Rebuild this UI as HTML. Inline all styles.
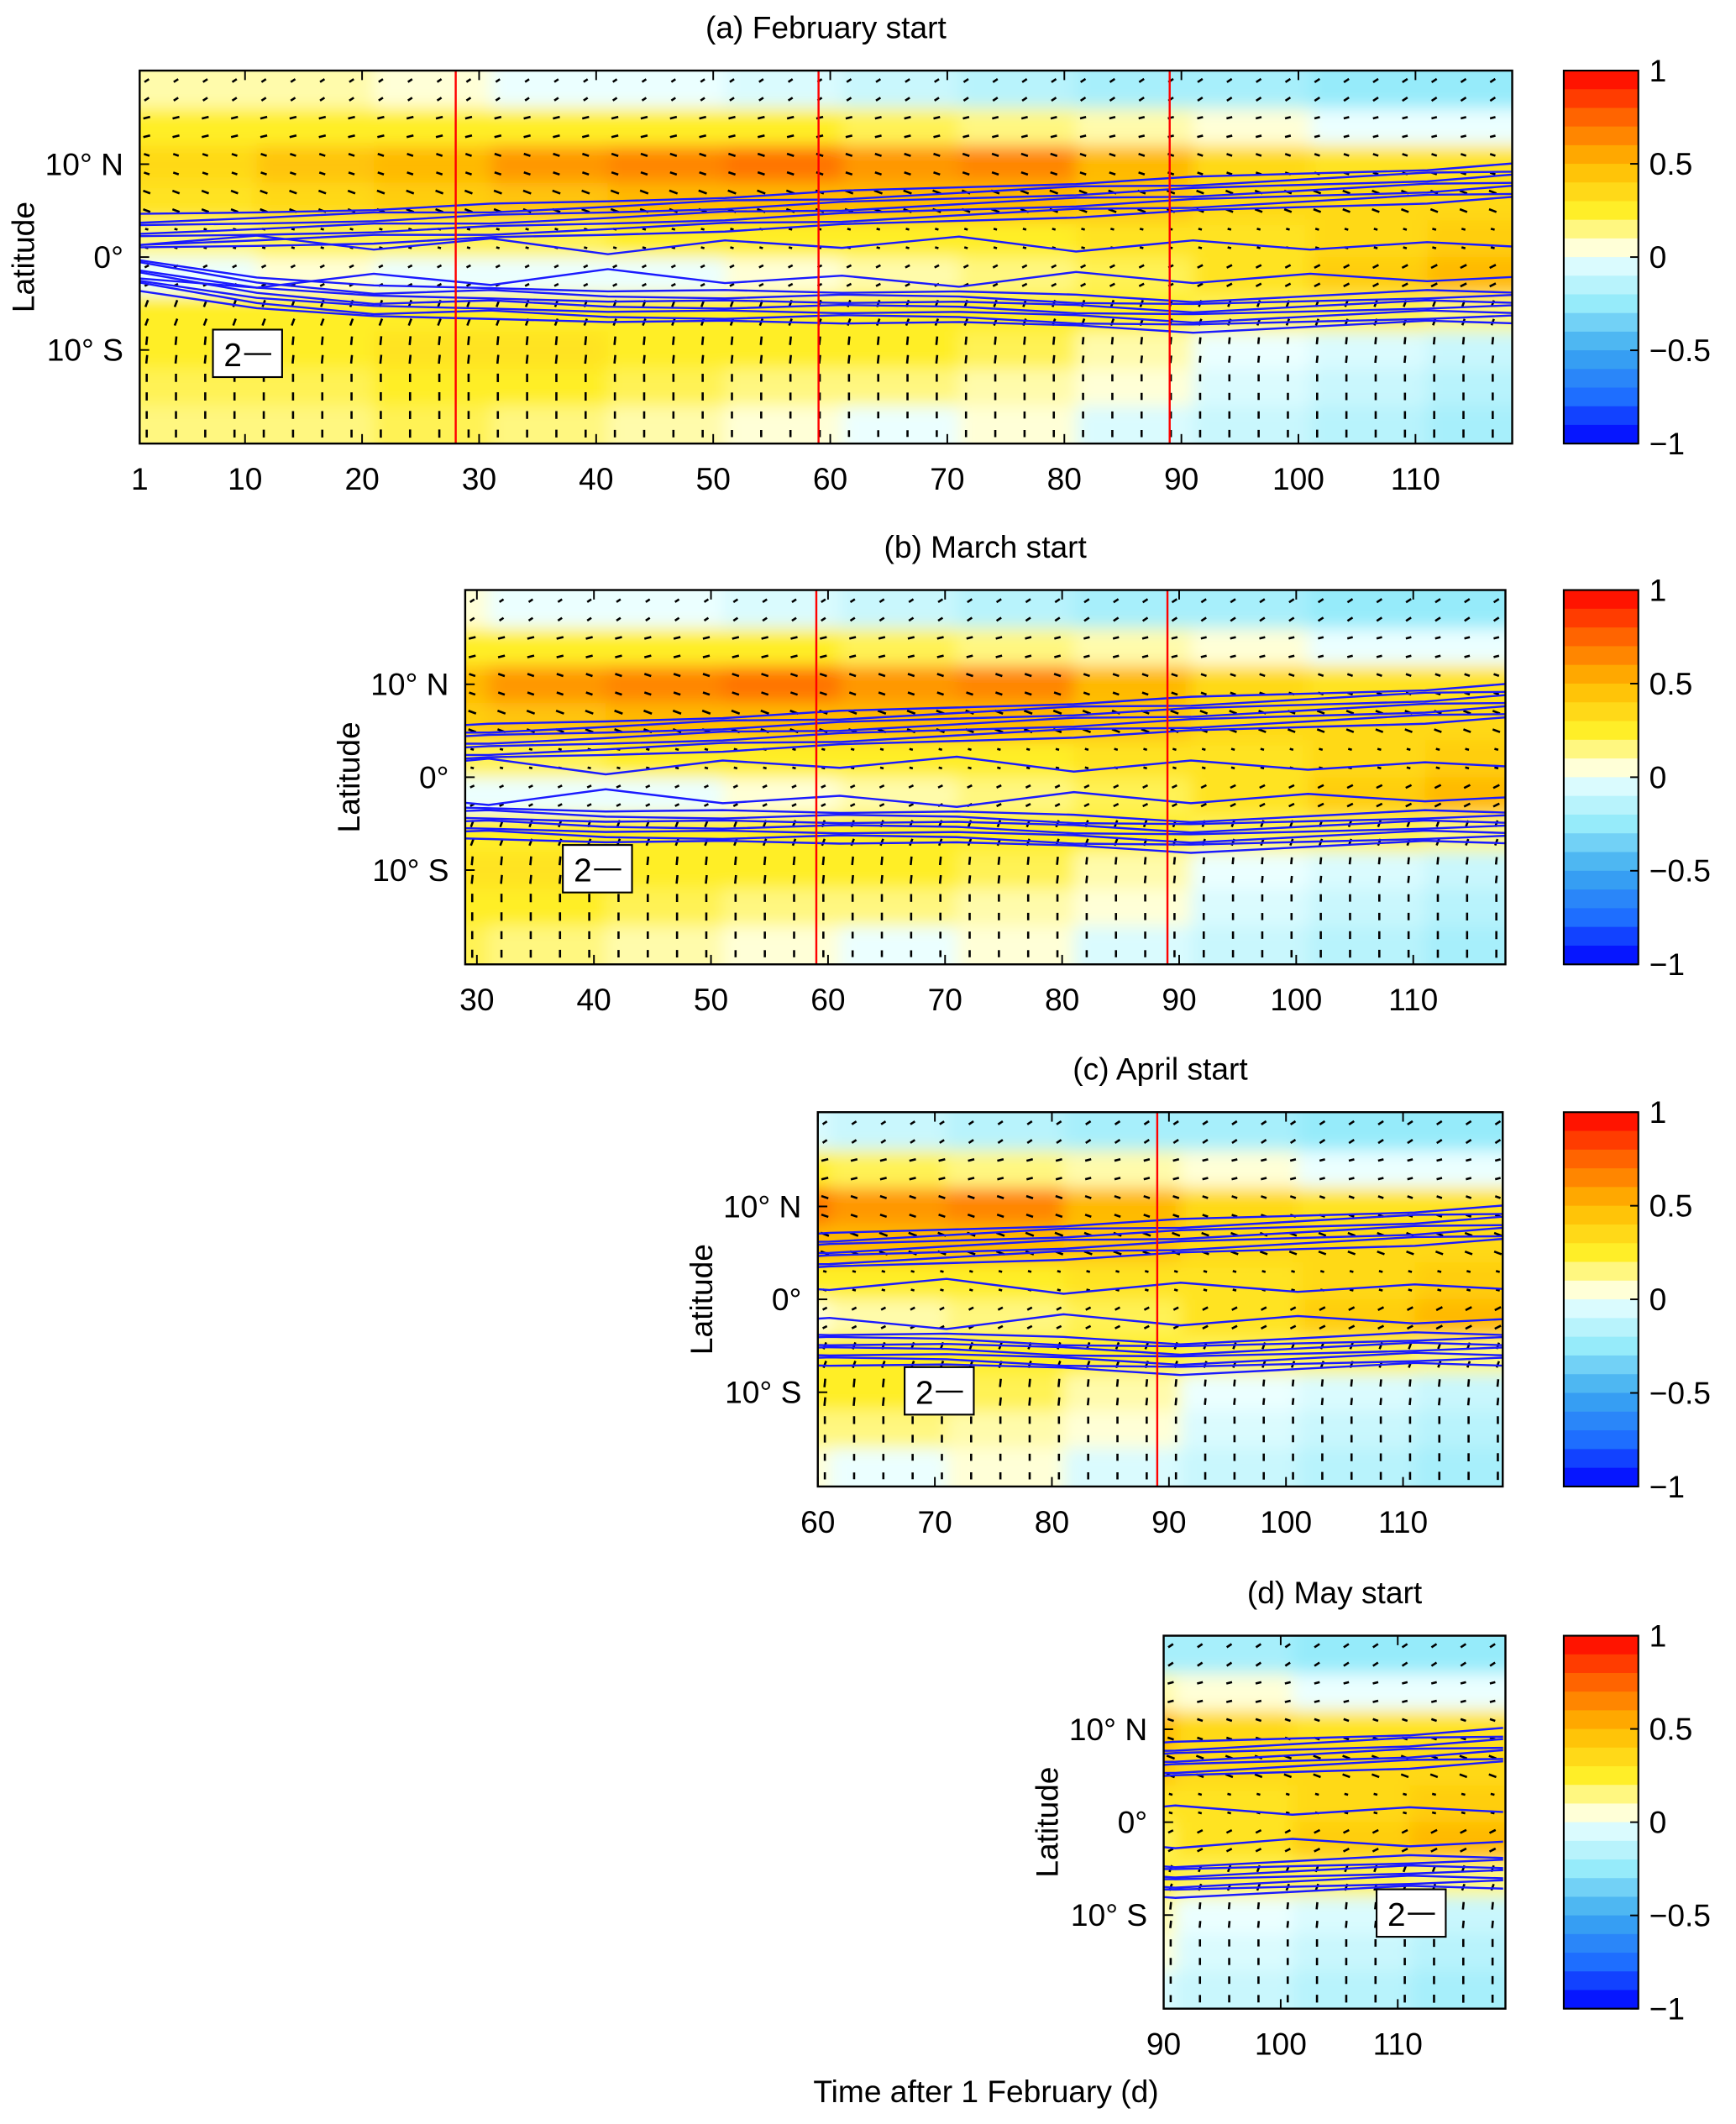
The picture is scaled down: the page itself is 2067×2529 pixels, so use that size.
<!DOCTYPE html>
<html><head><meta charset="utf-8">
<style>html,body{margin:0;padding:0;background:#fff;}svg{display:block;}text{font-family:"Liberation Sans",Arial,sans-serif;}</style>
</head><body>
<svg id="fig" xmlns="http://www.w3.org/2000/svg" width="2067" height="2529" viewBox="0 0 1280 1566">
<defs><filter id="blur" x="-5%" y="-5%" width="110%" height="110%"><feGaussianBlur stdDeviation="6"/></filter></defs>
</svg>
<script>
// ---- data ----
const dayCenters=[6,16,26,36,46,56,66,76,86,96,106,116];
const latCenters=[18,14,10,6,2,-2,-6,-10,-14,-18];
const anomRow18=[0.1,0.1,0.05,0.0,0.0,-0.05,-0.1,-0.15,-0.2,-0.2,-0.25,-0.25];
const anomRow14=[0.25,0.25,0.25,0.25,0.25,0.25,0.2,0.15,0.1,0.05,0.0,0.0];
const anomRow10=[0.35,0.45,0.5,0.6,0.65,0.7,0.6,0.65,0.5,0.35,0.3,0.3];
const anomRow6=[0.3,0.35,0.4,0.45,0.5,0.5,0.5,0.5,0.45,0.35,0.35,0.35];
const anomRow2=[0.15,0.2,0.2,0.2,0.25,0.25,0.25,0.25,0.3,0.3,0.35,0.4];
const anomRowM2=[0.0,0.05,0.0,0.0,0.0,0.05,0.1,0.15,0.2,0.3,0.4,0.5];
const anomRowM6=[0.25,0.25,0.25,0.25,0.25,0.25,0.25,0.25,0.25,0.2,0.2,0.15];
const anomRowM10=[0.25,0.25,0.3,0.3,0.25,0.25,0.25,0.2,0.1,0.0,-0.05,-0.1];
const anomRowM14=[0.2,0.2,0.25,0.25,0.2,0.15,0.15,0.1,0.05,-0.05,-0.1,-0.15];
const anomRowM18=[0.15,0.15,0.2,0.15,0.1,0.05,0.0,0.05,-0.05,-0.1,-0.15,-0.2];
const anom=[anomRow18,anomRow14,anomRow10,anomRow6,anomRow2,anomRowM2,anomRowM6,anomRowM10,anomRowM14,anomRowM18];
// wind components per latitude band
const windU=[-0.6,-0.8,-0.6,-0.8,-0.4,0.6,0.3,0.1,0.0,0.0];
const windV=[-0.4,-0.2,0.2,0.3,0.1,0.3,0.8,1.0,1.0,1.0];
// contour node days and latitudes
const contourDays=[1,11,21,31,41,51,61,71,81,91,101,111,119];
const upperEdge=[4.5,4.8,5.2,5.6,6.0,6.5,7.0,7.5,8.0,8.5,9.0,9.5,10.0];
const lowerEdge=[-3.5,-5.5,-6.5,-6.5,-7.0,-7.0,-7.0,-7.0,-7.5,-8.0,-7.5,-7.0,-7.0];
const innerWave=[0.5,1.5,0.0,1.2,-0.5,1.0,0.2,1.4,-0.2,1.0,0.0,0.8,0.3];
const cbTicks=[1,0.5,0,-0.5,-1];
const cbTickLabels=["1","0.5","0","\u22120.5","\u22121"];
// ---- layout ----
const panels=[
 {id:'a',title:'(a) February start',x0:103,x1:1115,y0:52,y1:327,d0:1,ticks:[1,10,20,30,40,50,60,70,80,90,100,110],red:[28,59,89],box:[157,243]},
 {id:'b',title:'(b) March start',x0:343,x1:1110,y0:435,y1:711,d0:29,ticks:[30,40,50,60,70,80,90,100,110],red:[59,89],box:[415,623]},
 {id:'c',title:'(c) April start',x0:603,x1:1108,y0:820,y1:1096,d0:60,ticks:[60,70,80,90,100,110],red:[89],box:[667,1008]},
 {id:'d',title:'(d) May start',x0:858,x1:1110,y0:1206,y1:1481,d0:90,ticks:[90,100,110],red:[],box:[1015,1393]}
];
const PX=8.63;
const svg=document.getElementById('fig');
const NS='http://www.w3.org/2000/svg';
function mk(tag,attrs,parent){const e=document.createElementNS(NS,tag);for(const k in attrs)e.setAttribute(k,attrs[k]);(parent||svg).appendChild(e);return e;}
function cmap(v){
 const stops=[[-1,[0,0,255]],[-0.75,[30,110,255]],[-0.5,[60,170,240]],[-0.25,[150,235,250]],[0,[235,255,255]],[0.05,[255,255,215]],[0.25,[255,238,40]],[0.5,[255,185,0]],[0.75,[255,100,0]],[1,[255,0,0]]];
 v=Math.max(-1,Math.min(1,v));
 for(let i=0;i<stops.length-1;i++){const a=stops[i],b=stops[i+1];if(v<=b[0]){const t=(v-a[0])/(b[0]-a[0]);return 'rgb('+a[1].map((c,j)=>Math.round(c+(b[1][j]-c)*t)).join(',')+')';}}
 return 'rgb(255,0,0)';
}
panels.forEach(p=>{
 const xs=d=>p.x0+(d-p.d0)*PX;
 const ys=l=>p.y0+(p.y1-p.y0)/2-l*6.85;
 const g=mk('g',{});  
 const cp=mk('clipPath',{id:'clip'+p.id},g); mk('rect',{x:p.x0,y:p.y0,width:p.x1-p.x0,height:p.y1-p.y0},cp);
 const plot=mk('g',{'clip-path':'url(#clip'+p.id+')'},g);
  
 const hm=mk('g',{filter:'url(#blur)'},plot);
  
 latCenters.forEach((l,i)=>{dayCenters.forEach((d,j)=>{
   if(d+5<p.d0-3) return;
   let xa=xs(d-5),xb=xs(d+5);
   if(j===dayCenters.length-1) xb+=30;
   if(d-5<=p.d0) xa-=30;
   let ya=ys(l+2),yb=ys(l-2);
   if(i===0) ya-=30; if(i===latCenters.length-1) yb+=30;
   const r=mk('rect',{x:xa,y:ya,width:xb-xa+0.5,height:yb-ya+0.5,fill:cmap(anom[i][j])},hm);
    
 });});
 // vectors
 const vg=mk('g',{stroke:'#000','stroke-width':1.6},plot);
  
 for(let d=p.d0+0.6;d<119;d+=2.5){
   for(let l=19;l>-20;l-=2){
     let bi=0,bd=99;latCenters.forEach((lc,i)=>{if(Math.abs(lc-l)<bd){bd=Math.abs(lc-l);bi=i;}});
     const tj=Math.min(11,Math.max(0,Math.floor((d-1)/10)));
     const amp=0.5+0.5*Math.abs(anom[bi][tj]);
     const u=windU[bi]*amp*10, v=windV[bi]*amp*10;
     const cx=xs(d),cy=ys(l);
     const ln=mk('line',{x1:cx-u/2,y1:cy+v/2,x2:cx+u/2,y2:cy-v/2},vg);
      
   }
 }
 // contours
 const cg=mk('g',{fill:'none',stroke:'#1a1aff','stroke-width':1.5},plot);
  
 for(let k=0;k<7;k++){
   let s1='',s2='';
   contourDays.forEach((d,i)=>{
     const w=(k%2?0.2:-0.15)*((i%3)-1);
     s1+=(i?'L':'M')+xs(d).toFixed(1)+','+ys(upperEdge[i]-k*0.6+w).toFixed(1);
     s2+=(i?'L':'M')+xs(d).toFixed(1)+','+ys(lowerEdge[i]+k*0.55-w).toFixed(1);
   });
   const a=mk('path',{d:s1},cg);  
   const b=mk('path',{d:s2},cg);  
 }
 let s3='',s4='';
 contourDays.forEach((d,i)=>{s3+=(i?'L':'M')+xs(d).toFixed(1)+','+ys(innerWave[i]+0.8).toFixed(1);s4+=(i?'L':'M')+xs(d).toFixed(1)+','+ys(-innerWave[i]-1.8).toFixed(1);});
 const iw=mk('path',{d:s3},cg);  
 const iw2=mk('path',{d:s4},cg);  
 // red lines
 p.red.forEach(d=>{const r=mk('line',{x1:xs(d),x2:xs(d),y1:p.y0,y2:p.y1,stroke:'#ff0000','stroke-width':1.5},plot);
    });
 // legend box
 const bx=mk('g',{},g);  
 mk('rect',{x:p.box[0],y:p.box[1],width:51,height:35,fill:'#fff',stroke:'#000','stroke-width':1.3},bx);
 const bt=mk('text',{x:p.box[0]+8,y:p.box[1]+27,'font-size':24},bx); bt.textContent='2';
 mk('line',{x1:p.box[0]+23,x2:p.box[0]+43,y1:p.box[1]+18,y2:p.box[1]+18,stroke:'#000','stroke-width':1.5},bx);
 // frame
 const fr=mk('rect',{x:p.x0,y:p.y0,width:p.x1-p.x0,height:p.y1-p.y0,fill:'none',stroke:'#000','stroke-width':1.5},g);
  
 // x ticks
 p.ticks.forEach(t=>{
   mk('line',{x1:xs(t),x2:xs(t),y1:p.y1,y2:p.y1-7,stroke:'#000','stroke-width':1.2},g);
   mk('line',{x1:xs(t),x2:xs(t),y1:p.y0,y2:p.y0+7,stroke:'#000','stroke-width':1.2},g);
   const tx=mk('text',{x:xs(t),y:p.y1+34,'font-size':23,'text-anchor':'middle'},g);
     tx.textContent=t;
 });
 // y ticks
 [[10,'10\u00b0 N'],[0,'0\u00b0'],[-10,'10\u00b0 S']].forEach(([l,s])=>{
   mk('line',{x1:p.x0,x2:p.x0+7,y1:ys(l),y2:ys(l),stroke:'#000','stroke-width':1.2},g);
   const tx=mk('text',{x:p.x0-12,y:ys(l)+8,'font-size':23,'text-anchor':'end'},g);
     tx.textContent=s;
 });
 const yl=mk('text',{transform:'translate('+(p.x0-78)+','+ys(0)+') rotate(-90)','font-size':23,'text-anchor':'middle'},g);
   yl.textContent='Latitude';
 const ti=mk('text',{x:(p.x0+p.x1)/2,y:p.y0-24,'font-size':23,'text-anchor':'middle'},g);
   ti.textContent=p.title;
 // colorbar
 const cb=mk('g',{},g);  
 const cx0=1153,cw=55,h=p.y1-p.y0;
 for(let i=0;i<20;i++){const v=1-(i+0.5)*0.1;mk('rect',{x:cx0,y:p.y0+i*h/20,width:cw,height:h/20+0.6,fill:cmap(v)},cb);}
 mk('rect',{x:cx0,y:p.y0,width:cw,height:h,fill:'none',stroke:'#000','stroke-width':1.3},cb);
 cbTicks.forEach((t,i)=>{const y=p.y0+(1-t)/2*h;
   mk('line',{x1:cx0+cw-6,x2:cx0+cw,y1:y,y2:y,stroke:'#000','stroke-width':1.2},cb);
   const tx=mk('text',{x:cx0+cw+8,y:y+8,'font-size':23},cb);
     tx.textContent=cbTickLabels[i];});
});
const xl=mk('text',{x:727,y:1550,'font-size':23,'text-anchor':'middle'});


xl.textContent='Time after 1 February (d)';
</script>
</body></html>
